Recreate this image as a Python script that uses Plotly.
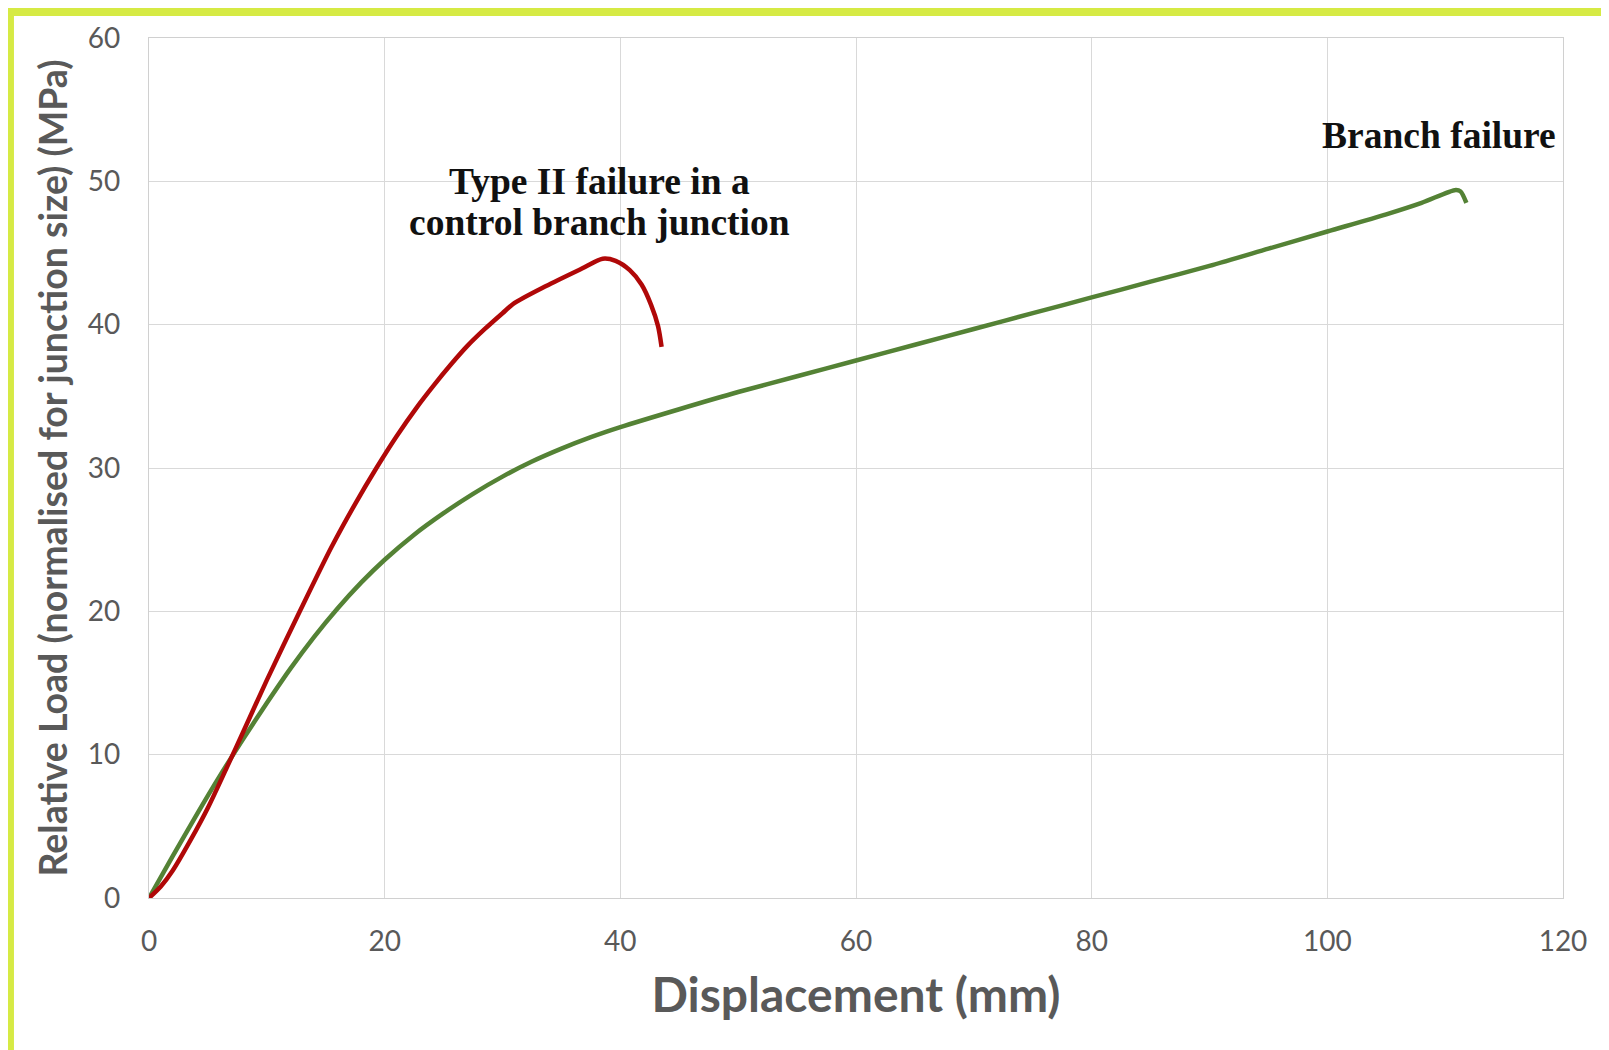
import plotly.graph_objects as go

# Control branch junction (Type II failure)
red_x = [0, 1, 2, 3.5, 5, 6.6, 8, 10, 12.8, 15.5, 17.5, 19.3, 21, 22.7, 24.2, 25.6, 27, 28.5, 30.0, 31.0,
         33.7, 36.7, 38.5, 39.6, 40.8, 41.8, 42.6, 43.2, 43.5]
red_y = [0, 0.8, 1.9, 4.0, 6.3, 9.1, 11.6, 15.2, 20.0, 24.5, 27.5, 30.0, 32.2, 34.2, 35.8, 37.2, 38.5, 39.7, 40.8, 41.5,
         42.7, 43.9, 44.6, 44.45, 43.8, 42.8, 41.4, 39.9, 38.45]

# Branch failure
green_x = [0, 2, 4, 6, 8, 10, 12, 14, 16, 18, 20, 22.5, 25, 27.5, 30, 32.5, 35, 37.5, 40, 45, 50, 55, 60,
           65, 70, 75, 80, 85, 90, 95, 100, 105, 108, 110.9, 111.3, 111.8]
green_y = [0, 2.9, 5.75, 8.5, 11.1, 13.6, 16.0, 18.2, 20.2, 22.0, 23.6, 25.35, 26.85, 28.2, 29.4, 30.45, 31.35, 32.15,
           32.85, 34.1, 35.3, 36.4, 37.5, 38.6, 39.7, 40.8, 41.9, 43.0, 44.1, 45.3, 46.5, 47.7, 48.5, 49.4, 49.3, 48.5]

x_ticks = [0, 20, 40, 60, 80, 100, 120]
y_ticks = [0, 10, 20, 30, 40, 50, 60]

fig = go.Figure()
fig.add_trace(go.Scatter(x=green_x, y=green_y, mode="lines", name="Branch failure",
                         line=dict(color="#548235", width=4.5, shape="spline", smoothing=0.8)))
fig.add_trace(go.Scatter(x=red_x, y=red_y, mode="lines", name="Type II failure",
                         line=dict(color="#b00808", width=4.5, shape="spline", smoothing=0.8)))

sans = "Lato, 'Open Sans', sans-serif"
axis_font = dict(family=sans, size=28, color="#595959")

fig.update_xaxes(range=[0, 120], tickvals=x_ticks, ticktext=[str(v) for v in x_ticks],
                 showgrid=True, gridcolor="#d9d9d9", gridwidth=1.3, zeroline=False,
                 showline=True, linecolor="#d0d0d0", linewidth=1.3, mirror=True,
                 ticks="outside", ticklen=18, tickcolor="rgba(0,0,0,0)",
                 tickfont=axis_font,
                 title=dict(text="<b>Displacement (mm)</b>", standoff=22,
                            font=dict(family=sans, size=48, color="#595959")))
fig.update_yaxes(range=[0, 60], tickvals=y_ticks, ticktext=[str(v) for v in y_ticks],
                 showgrid=True, gridcolor="#d9d9d9", gridwidth=1.3, zeroline=False,
                 showline=True, linecolor="#d0d0d0", linewidth=1.3, mirror=True,
                 ticks="outside", ticklen=22, tickcolor="rgba(0,0,0,0)",
                 tickfont=axis_font,
                 title=dict(text="<b>Relative Load (normalised for junction size) (MPa)</b>", standoff=8,
                            font=dict(family=sans, size=37.5, color="#595959")))

ann_font = dict(family="'Liberation Serif', 'Times New Roman', serif", size=37.5, color="#111111")
fig.add_annotation(x=38.2, y=50.0, xref="x", yref="y",
                   text="<b>Type II failure in a</b>",
                   showarrow=False, font=ann_font, align="center")
fig.add_annotation(x=38.2, y=47.15, xref="x", yref="y",
                   text="<b>control branch junction</b>",
                   showarrow=False, font=ann_font, align="center")
fig.add_annotation(x=109.5, y=53.2, xref="x", yref="y",
                   text="<b>Branch failure</b>",
                   showarrow=False, font=ann_font, align="center")

# white panel over the leafy yellow-green background
fig.add_shape(type="rect", xref="paper", yref="paper",
              x0=-0.0955, x1=1.06, y0=-0.25, y1=1.0255,
              fillcolor="white", line=dict(width=0), layer="below")

fig.update_layout(
    width=1601, height=1042,
    margin=dict(l=141, r=46, t=28, b=152),
    paper_bgcolor="#d6ea44",
    plot_bgcolor="white",
    showlegend=False,
)

fig.write_html("out.html")
